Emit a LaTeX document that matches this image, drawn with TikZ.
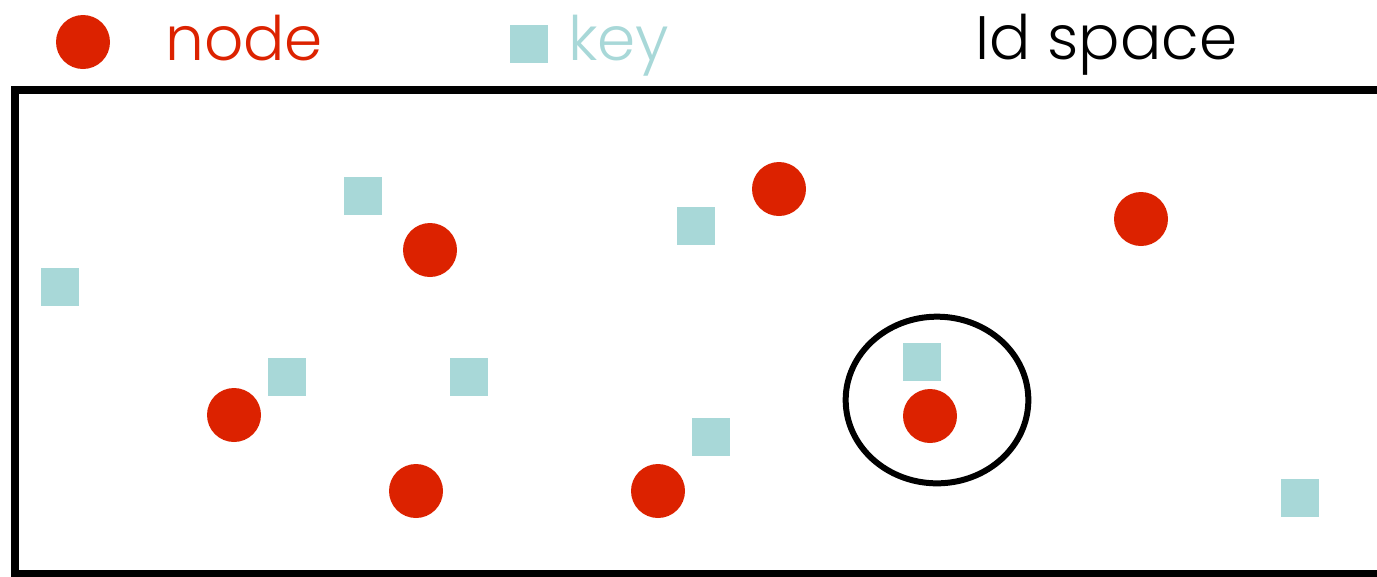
\documentclass[tikz,border=0pt]{standalone}
\usepackage{fontspec}
\setmainfont{Poppins}[UprightFont=* Light]
\usetikzlibrary{shapes.geometric}
\definecolor{nodered}{RGB}{220,34,0}
\definecolor{keyblue}{RGB}{168,216,216}
\tikzset{
peer/.style={circle,fill=nodered,inner sep=0pt,minimum size=40.5pt},
keybox/.style={rectangle,fill=keyblue,inner sep=0pt,minimum size=29pt},
legend/.style={anchor=base west,inner sep=0pt,font=\fontsize{46}{50}\selectfont}}
\begin{document}
\begin{tikzpicture}[x=0.75pt,y=0.75pt,yscale=-1,xscale=1]
\useasboundingbox (0,0) rectangle (1377,576);
\clip (0,0) rectangle (1377,576);

% legend
\node [peer] (lnode) at (83,42) {};
\node [legend,text=nodered] (tnode) at (165,60) {node};
\node [keybox] (lkey) at (529,44) {};
\node [legend,text=keyblue] (tkey) at (568,60) {key};
\node [legend] (tspace) at (975,59) {Id space};

% id space
\draw [line width=6pt] (15,90) rectangle (1400,574);

% keys
\node [keybox] (k1) at (363,196) {};
\node [keybox] (k2) at (696,226) {};
\node [keybox] (k3) at (60,287) {};
\node [keybox] (k4) at (287,377) {};
\node [keybox] (k5) at (469,377) {};
\node [keybox] (k6) at (922,362) {};
\node [keybox] (k7) at (711,437) {};
\node [keybox] (k8) at (1300,498) {};

% nodes
\node [peer] (n1) at (779,189) {};
\node [peer] (n2) at (430,250) {};
\node [peer] (n3) at (1141,219) {};
\node [peer] (n4) at (234,415) {};
\node [peer] (n5) at (930,416) {};
\node [peer] (n6) at (416,491) {};
\node [peer] (n7) at (658,491) {};

% responsible node
\node [ellipse,draw,line width=4.5pt,inner sep=0pt,minimum width=137pt,minimum height=125pt] (range) at (937,400) {};
\end{tikzpicture}
\end{document}
